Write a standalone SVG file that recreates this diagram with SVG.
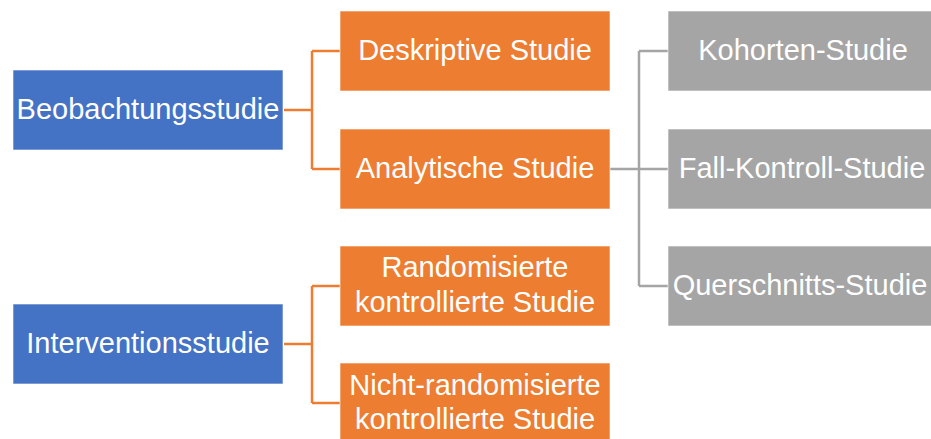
<svg xmlns="http://www.w3.org/2000/svg" width="931" height="439" viewBox="0 0 931 439">
<style>
.box{stroke:#ffffff;stroke-opacity:0.6;stroke-width:1}
.blue{fill:#4472C4}
.orange{fill:#ED7D31}
.gray{fill:#A5A5A5}
text{font-family:"Liberation Sans",Arial,sans-serif;font-size:29px;fill:#ffffff;text-anchor:middle}
.co{fill:none;stroke:#ED7D31;stroke-width:2.5}
.cg{fill:none;stroke:#A5A5A5;stroke-width:2.5}
</style>
<rect width="931" height="439" fill="#ffffff"/>
<g id="connectors">
<path class="co" d="M284,110 H312 M312,51 V169 M312,51 H340 M312,169 H340"/>
<path class="co" d="M284,344 H312 M312,286 V403 M312,286 H340 M312,403 H340"/>
<path class="cg" d="M610,169 H668 M639,51 V286 M639,51 H668 M639,286 H668"/>
</g>
<g id="beobachtungsstudie">
<rect class="box blue" x="13" y="70" width="270" height="80"/>
<text x="148" y="119">Beobachtungsstudie</text>
</g>
<g id="interventionsstudie">
<rect class="box blue" x="13" y="304" width="270" height="80"/>
<text x="148" y="353">Interventionsstudie</text>
</g>
<g id="deskriptive">
<rect class="box orange" x="340" y="11" width="270" height="80"/>
<text x="475" y="60">Deskriptive Studie</text>
</g>
<g id="analytische">
<rect class="box orange" x="340" y="129" width="270" height="80"/>
<text x="475" y="178">Analytische Studie</text>
</g>
<g id="randomisierte">
<rect class="box orange" x="340" y="246" width="270" height="80"/>
<text x="475" y="277">Randomisierte</text>
<text x="475" y="312">kontrollierte Studie</text>
</g>
<g id="nicht-randomisierte">
<rect class="box orange" x="340" y="363" width="270" height="80"/>
<text x="475" y="395">Nicht-randomisierte</text>
<text x="475" y="429">kontrollierte Studie</text>
</g>
<g id="kohorten">
<rect class="box gray" x="668" y="11" width="270" height="80"/>
<text x="803" y="60">Kohorten-Studie</text>
</g>
<g id="fall-kontroll">
<rect class="box gray" x="668" y="129" width="270" height="80"/>
<text x="802" y="178">Fall-Kontroll-Studie</text>
</g>
<g id="querschnitts">
<rect class="box gray" x="668" y="246" width="270" height="80"/>
<text x="800" y="295">Querschnitts-Studie</text>
</g>
</svg>
